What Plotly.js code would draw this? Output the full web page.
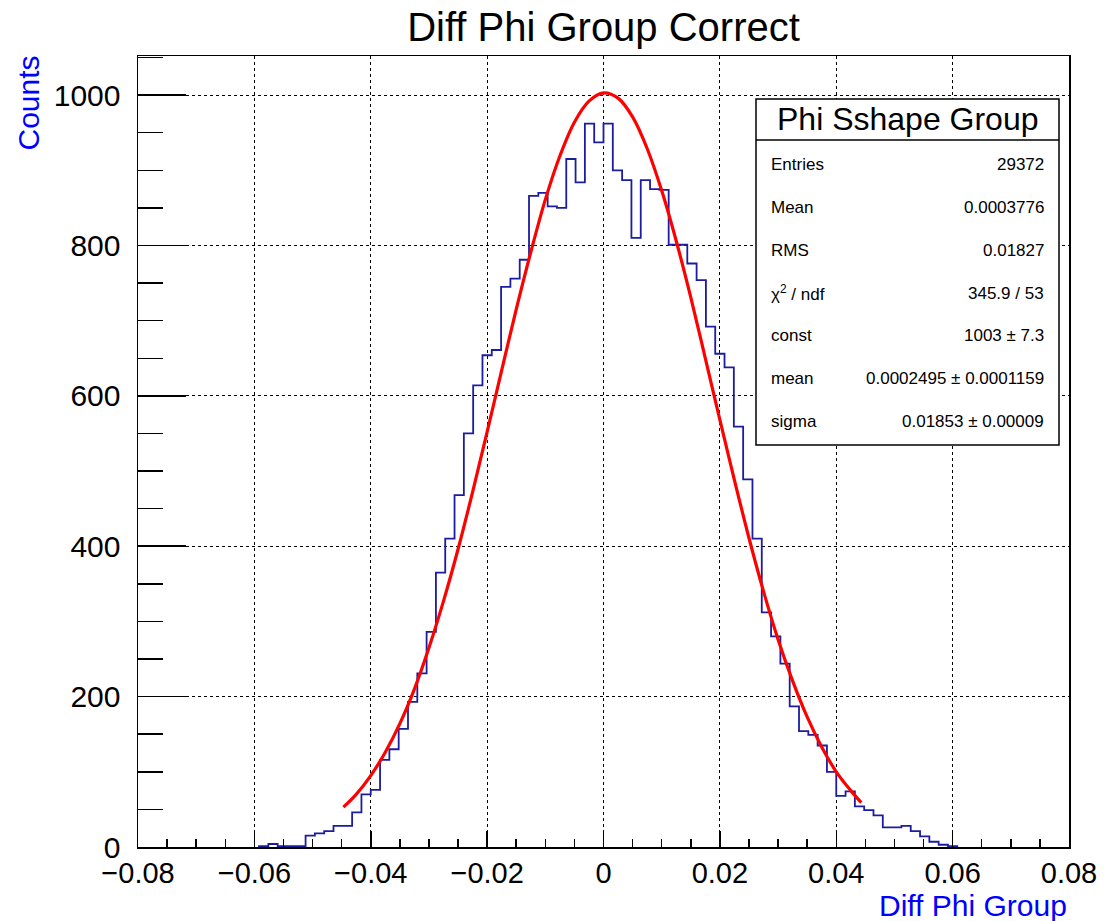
<!DOCTYPE html>
<html>
<head>
<meta charset="utf-8">
<script src="https://cdn.plot.ly/plotly-3.0.1.min.js"></script>
<style>
  html, body { margin: 0; padding: 0; background: #ffffff; }
  #chart { width: 1104px; height: 921px; }
</style>
</head>
<body>
<div id="chart"></div>
<script>
// ---- Histogram definition (100 bins from -0.08 to 0.08) ----
const histXMin = -0.08;
const histXMax = 0.08;
const histNBins = 100;
// bin contents, bin 0 .. bin 99
const histCounts = [
  0, 0, 0, 0, 0, 0, 0, 0, 0, 0,
  0, 0, 0, 1, 4, 1, 1, 1, 15, 18,
  21, 28, 28, 46, 70, 76, 116, 130, 157, 193,
  231, 286, 365, 410, 468, 550, 614, 654, 661, 745,
  756, 781, 866, 870, 852, 850, 915, 884, 962, 937,
  962, 900, 887, 810, 887, 875, 874, 801, 801, 776,
  754, 692, 656, 638, 559, 489, 410, 312, 280, 244,
  187, 154, 149, 135, 100, 68, 74, 54, 49, 42,
  26, 26, 28, 21, 14, 7, 3, 1, 0, 0,
  0, 0, 0, 0, 0, 0, 0, 0, 0, 0
];

// ---- Gaussian fit curve ----
const fitX = [-0.0447, -0.0425, -0.04, -0.0375, -0.035, -0.0325, -0.03, -0.0275, -0.025, -0.0225,
  -0.02, -0.0175, -0.015, -0.0125, -0.01, -0.0075, -0.005, -0.0025, 0, 0.0025,
  0.005, 0.0075, 0.01, 0.0125, 0.015, 0.0175, 0.02, 0.0225, 0.025, 0.0275,
  0.03, 0.0325, 0.035, 0.0375, 0.04, 0.0425, 0.0443];
const fitY = [53, 70, 95, 126, 164, 210, 265, 327, 396, 472,
  552, 634, 715, 791, 861, 919, 964, 992, 1003, 996,
  971, 929, 873, 806, 731, 650, 568, 488, 411, 340,
  276, 221, 173, 133, 100, 75, 59];

// ---- Texts ----
const chartTitle = "Diff Phi Group Correct";
const xTitle = "Diff Phi Group";
const yTitle = "Counts";
const statsTitle = "Phi Sshape Group";
const statsLabels = ["Entries", "Mean", "RMS", "χ<sup>2</sup> / ndf", "const", "mean", "sigma"];
const statsValues = ["29372", "0.0003776", "0.01827", "345.9 / 53", "1003 ± 7.3", "0.0002495 ± 0.0001159", "0.01853 ± 0.00009"];
const yMax = 1052;

// ---- Build step outline from the non-empty bin range ----
const bw = (histXMax - histXMin) / histNBins;
let first = histCounts.findIndex(v => v > 0);
let last = histNBins - 1;
while (last > 0 && histCounts[last] === 0) last--;
const stepX = [histXMin + first * bw], stepY = [0];
for (let i = first; i <= last; i++) {
  stepX.push(histXMin + i * bw);
  stepY.push(histCounts[i]);
}
stepX.push(histXMin + (last + 1) * bw);
stepY.push(0);

// ---- Layout geometry (pixels) ----
const W = 1104, H = 921;
const mL = 138, mR = 35, mT = 56, mB = 74;
const plotW = W - mL - mR, plotH = H - mT - mB;
const px2x = p => (p - mL) / plotW;
const py2y = p => (H - mB - p) / plotH;

const FONT = "Liberation Sans, Arial, Helvetica, sans-serif";

const traces = [
  {
    type: "scatter", mode: "lines",
    x: stepX, y: stepY,
    line: { shape: "hv", color: "#1c1ca0", width: 1.8 },
    hoverinfo: "skip", showlegend: false
  },
  {
    type: "scatter", mode: "lines",
    x: fitX, y: fitY,
    line: { shape: "spline", color: "#ff0000", width: 3.2 },
    hoverinfo: "skip", showlegend: false
  }
];

// stats box
const boxL = 756, boxR = 1059, boxT = 99, boxB = 445, boxSep = 140;
const shapes = [
  { type: "rect", xref: "paper", yref: "paper",
    x0: px2x(boxL), x1: px2x(boxR), y0: py2y(boxB), y1: py2y(boxT),
    line: { color: "black", width: 1.5 }, fillcolor: "white", layer: "above" },
  { type: "line", xref: "paper", yref: "paper",
    x0: px2x(boxL), x1: px2x(boxR), y0: py2y(boxSep), y1: py2y(boxSep),
    line: { color: "black", width: 1.5 }, layer: "above" }
];

const annotations = [
  { text: statsTitle, xref: "paper", yref: "paper",
    x: px2x((boxL + boxR) / 2), y: py2y((boxT + boxSep) / 2),
    xanchor: "center", yanchor: "middle", showarrow: false,
    font: { family: FONT, size: 32, color: "black" } },
  { text: yTitle, xref: "paper", yref: "paper",
    x: px2x(28), y: py2y(54), xanchor: "center", yanchor: "top",
    textangle: -90, showarrow: false,
    font: { family: FONT, size: 30, color: "#0000ff" } },
  { text: xTitle, xref: "paper", yref: "paper",
    x: px2x(1069), y: py2y(906), xanchor: "right", yanchor: "middle",
    showarrow: false,
    font: { family: FONT, size: 30, color: "#0000ff" } }
];
const rowY0 = 165, rowStep = 42.7;
statsLabels.forEach((lab, i) => {
  const yy = py2y(rowY0 + i * rowStep);
  annotations.push({ text: lab, xref: "paper", yref: "paper", x: px2x(769), y: yy,
    xanchor: "left", yanchor: "middle", showarrow: false,
    font: { family: FONT, size: 17, color: "black" } });
  annotations.push({ text: statsValues[i], xref: "paper", yref: "paper", x: px2x(1046), y: yy,
    xanchor: "right", yanchor: "middle", showarrow: false,
    font: { family: FONT, size: 17, color: "black" } });
});

const layout = {
  width: W, height: H,
  margin: { l: mL, r: mR, t: mT, b: mB, pad: 0 },
  paper_bgcolor: "white", plot_bgcolor: "white",
  showlegend: false,
  title: { text: chartTitle, xref: "paper", x: 0.5, xanchor: "center",
    yref: "container", y: 1 - 27 / H, yanchor: "middle",
    font: { family: FONT, size: 40, color: "black" } },
  xaxis: {
    range: [histXMin, histXMax], autorange: false,
    tickmode: "linear", tick0: -0.08, dtick: 0.02,
    ticks: "inside", ticklen: 16, tickwidth: 1.5, tickcolor: "black",
    minor: { ticks: "inside", ticklen: 8, tickwidth: 1.5, tickcolor: "black", dtick: 0.005, showgrid: false },
    showgrid: true, gridcolor: "black", griddash: "dot", gridwidth: 1,
    zeroline: false, showline: true, linecolor: "black", linewidth: 1.5, mirror: true,
    tickfont: { family: FONT, size: 29, color: "black" },
    ticklabelstandoff: 0
  },
  yaxis: {
    range: [0, yMax], autorange: false,
    tickmode: "linear", tick0: 0, dtick: 200,
    ticks: "inside", ticklen: 48, tickwidth: 1.5, tickcolor: "black",
    minor: { ticks: "inside", ticklen: 25, tickwidth: 1.5, tickcolor: "black", dtick: 50, showgrid: false },
    showgrid: true, gridcolor: "black", griddash: "dot", gridwidth: 1,
    zeroline: false, showline: true, linecolor: "black", linewidth: 1.5, mirror: true,
    tickfont: { family: FONT, size: 30, color: "black" },
    ticklabelstandoff: 10
  },
  shapes: shapes,
  annotations: annotations
};

Plotly.newPlot("chart", traces, layout, { displayModeBar: false, staticPlot: true });
</script>
</body>
</html>
